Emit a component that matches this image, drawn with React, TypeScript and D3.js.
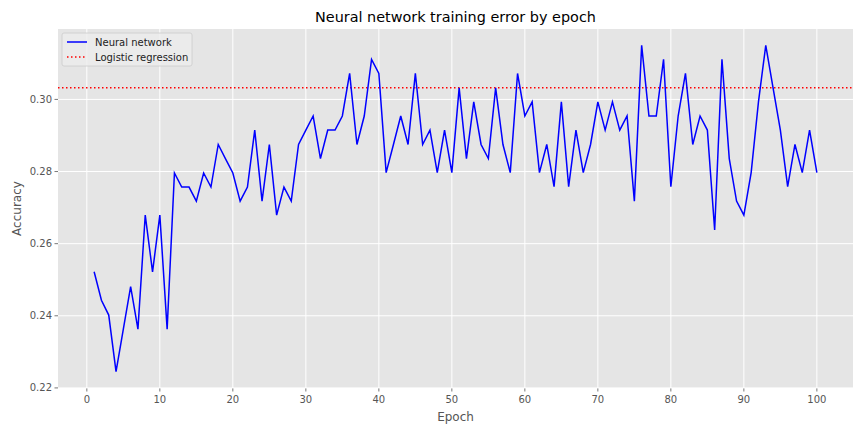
import * as d3 from "d3";

// epochs 1..100 and accuracy
const epochs: number[] = d3.range(1, 101);
const nnAccuracy: number[] = [
  0.2522, 0.2443, 0.2402, 0.2245, 0.2363, 0.2481, 0.2363, 0.2679, 0.2522, 0.2679,
  0.2363, 0.2796, 0.2757, 0.2757, 0.2718, 0.2796, 0.2757, 0.2875, 0.2835, 0.2796,
  0.2718, 0.2757, 0.2915, 0.2718, 0.2875, 0.2679, 0.2757, 0.2718, 0.2875, 0.2915,
  0.2954, 0.2836, 0.2915, 0.2915, 0.2954, 0.3072, 0.2875, 0.2954, 0.3111, 0.3072,
  0.2797, 0.2875, 0.2954, 0.2875, 0.3072, 0.2875, 0.2915, 0.2797, 0.2915, 0.2797,
  0.3032, 0.2836, 0.2993, 0.2875, 0.2836, 0.3032, 0.2875, 0.2797, 0.3072, 0.2954,
  0.2993, 0.2797, 0.2875, 0.2758, 0.2993, 0.2758, 0.2915, 0.2797, 0.2875, 0.2993,
  0.2915, 0.2993, 0.2915, 0.2954, 0.2718, 0.3150, 0.2954, 0.2954, 0.3111, 0.2758,
  0.2954, 0.3072, 0.2875, 0.2954, 0.2915, 0.2638, 0.3111, 0.2836, 0.2718, 0.2679,
  0.2797, 0.2993, 0.3150, 0.3032, 0.2915, 0.2758, 0.2875, 0.2797, 0.2915, 0.2797,
];
const logisticAccuracy = 0.3032;
const xTicks: number[] = d3.range(0, 101, 10);
const yTicks: number[] = [0.22, 0.24, 0.26, 0.28, 0.3];
const legendItems = ["Neural network", "Logistic regression"];

const W = 864;
const H = 432;
const m = { top: 29, right: 11, bottom: 44, left: 58 };
const font = "'DejaVu Sans', sans-serif";

export default function App() {
  const iw = W - m.left - m.right;
  const ih = H - m.top - m.bottom;

  // matplotlib style 5% margins
  const xPad = (100 - 1) * 0.05;
  const x = d3.scaleLinear().domain([1 - xPad, 100 + xPad]).range([0, iw]);
  const yMin = d3.min(nnAccuracy)!;
  const yMax = d3.max(nnAccuracy)!;
  const yPad = (yMax - yMin) * 0.05;
  const y = d3.scaleLinear().domain([yMin - yPad, yMax + yPad]).range([ih, 0]);

  const line = d3
    .line<number>()
    .x((_, i) => x(epochs[i]))
    .y((d) => y(d));

  return (
    <svg width={W} height={H} style={{ position: "absolute", left: 0, top: 0 }}>
      <rect width={W} height={H} fill="white" />
      <text x={m.left + iw / 2} y={22} textAnchor="middle" fontFamily={font} fontSize={14.4} fill="#000">
        Neural network training error by epoch
      </text>
      <g transform={`translate(${m.left},${m.top})`}>
        <rect width={iw} height={ih} fill="#e5e5e5" />
        {xTicks.map((t) => (
          <g key={"x" + t}>
            <line x1={x(t)} x2={x(t)} y1={0} y2={ih} stroke="white" strokeWidth={1} />
            <line x1={x(t)} x2={x(t)} y1={ih} y2={ih + 3.5} stroke="#555" strokeWidth={0.8} />
            <text x={x(t)} y={ih + 15} textAnchor="middle" fontFamily={font} fontSize={10} fill="#555">
              {t}
            </text>
          </g>
        ))}
        {yTicks.map((t) => (
          <g key={"y" + t}>
            <line x1={0} x2={iw} y1={y(t)} y2={y(t)} stroke="white" strokeWidth={1} />
            <line x1={-3.5} x2={0} y1={y(t)} y2={y(t)} stroke="#555" strokeWidth={0.8} />
            <text x={-6} y={y(t) + 3.5} textAnchor="end" fontFamily={font} fontSize={10} fill="#555">
              {t.toFixed(2)}
            </text>
          </g>
        ))}
        <line
          x1={0}
          x2={iw}
          y1={y(logisticAccuracy)}
          y2={y(logisticAccuracy)}
          stroke="red"
          strokeWidth={1.5}
          strokeDasharray="1.5,2.5"
        />
        <path d={line(nnAccuracy) ?? ""} fill="none" stroke="blue" strokeWidth={1.5} />

        <g transform="translate(4,4)">
          <rect width={130} height={33} rx={2} fill="#ececec" fillOpacity={0.8} stroke="#cccccc" strokeWidth={0.8} />
          {legendItems.map((name, i) => (
            <g key={name} transform={`translate(0,${9 + i * 15})`}>
              <line
                x1={5}
                x2={25}
                y1={0}
                y2={0}
                stroke={i === 0 ? "blue" : "red"}
                strokeWidth={1.5}
                strokeDasharray={i === 0 ? undefined : "1.5,2.5"}
              />
              <text x={33} y={3.5} fontFamily={font} fontSize={10} fill="#222">
                {name}
              </text>
            </g>
          ))}
        </g>
      </g>
      <text x={m.left + iw / 2} y={H - 11} textAnchor="middle" fontFamily={font} fontSize={12} fill="#555">
        Epoch
      </text>
      <text
        transform={`translate(21,${m.top + ih / 2}) rotate(-90)`}
        textAnchor="middle"
        fontFamily={font}
        fontSize={12}
        fill="#555"
      >
        Accuracy
      </text>
    </svg>
  );
}
